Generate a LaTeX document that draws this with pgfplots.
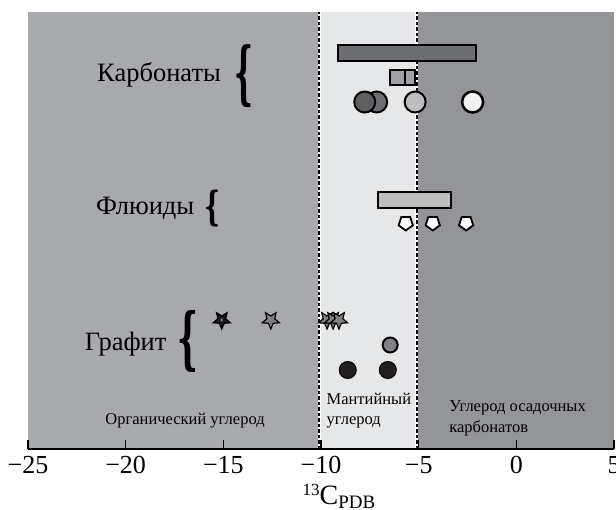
\documentclass[border=0pt]{standalone}
\usepackage{fontspec}
\setmainfont{Liberation Serif}
\newfontfamily\bracefont{DejaVu Serif}
\usepackage{pgfplots}
\pgfplotsset{compat=1.18}
\usetikzlibrary{plotmarks}

\definecolor{gL}{HTML}{A7A9AC}
\definecolor{gM}{HTML}{E6E7E8}
\definecolor{gR}{HTML}{939598}
\definecolor{barDark}{HTML}{6D6E71}
\definecolor{barMid}{HTML}{A0A1A4}
\definecolor{barLight}{HTML}{BCBEC0}
\definecolor{cDarkA}{HTML}{5F6062}
\definecolor{cDarkB}{HTML}{6D6E71}
\definecolor{cLight}{HTML}{BCBEC0}
\definecolor{cWhite}{HTML}{F1F1F2}
\definecolor{cGray}{HTML}{808285}
\definecolor{cBlack}{HTML}{231F20}
\definecolor{starFill}{HTML}{1A1A1A}

\pgfdeclareplotmark{dstar}{%
 \pgfpathmoveto{\pgfpointpolar{-90}{\pgfplotmarksize}}%
 \pgfpathlineto{\pgfpointpolar{-54}{0.45\pgfplotmarksize}}%
 \pgfpathlineto{\pgfpointpolar{-18}{\pgfplotmarksize}}%
 \pgfpathlineto{\pgfpointpolar{18}{0.45\pgfplotmarksize}}%
 \pgfpathlineto{\pgfpointpolar{54}{\pgfplotmarksize}}%
 \pgfpathlineto{\pgfpointpolar{90}{0.45\pgfplotmarksize}}%
 \pgfpathlineto{\pgfpointpolar{126}{\pgfplotmarksize}}%
 \pgfpathlineto{\pgfpointpolar{162}{0.45\pgfplotmarksize}}%
 \pgfpathlineto{\pgfpointpolar{198}{\pgfplotmarksize}}%
 \pgfpathlineto{\pgfpointpolar{234}{0.45\pgfplotmarksize}}%
 \pgfpathclose
 \pgfusepathqfillstroke
 \pgfpathcircle{\pgfpointorigin}{0.15\pgfplotmarksize}%
 \pgfsetfillcolor{gray}%
 \pgfusepathqfill
}

\begin{document}
\begin{tikzpicture}
\begin{axis}[
  scale only axis, width=586pt, height=437pt,
  xmin=-25, xmax=5, ymin=0, ymax=437,
  axis x line=bottom, axis y line=none,
  x axis line style={-, line width=1.2pt},
  xtick={-25,-20,...,5},
  xticklabels={−25,−20,−15,−10,−5,0,5},
  ytick=\empty,
  tick align=inside, major tick length=9pt,
  tick style={black, line width=1.2pt},
  ticklabel style={font=\fontsize{26}{28}\selectfont},
  xticklabel style={yshift=-4pt},
  clip=false, axis on top,
]
% background regions
\addplot[fill=gL, draw=none] coordinates {(-25,0) (-10.1,0) (-10.1,437) (-25,437)} -- cycle;
\addplot[fill=gM, draw=none] coordinates {(-10.1,0) (-5.1,0) (-5.1,437) (-10.1,437)} -- cycle;
\addplot[fill=gR, draw=none] coordinates {(-5.1,0) (5,0) (5,437) (-5.1,437)} -- cycle;
% dashed boundaries
\addplot[white, line width=3pt] coordinates {(-10.1,0) (-10.1,437)};
\addplot[black, line width=2.2pt, dash pattern=on 3.5pt off 2pt] coordinates {(-10.1,0) (-10.1,437)};
\addplot[white, line width=3pt] coordinates {(-5.1,0) (-5.1,437)};
\addplot[black, line width=2.2pt, dash pattern=on 3.5pt off 2pt] coordinates {(-5.1,0) (-5.1,437)};

% Carbonates
\addplot[fill=barDark, draw=black, line width=2pt] coordinates {(-9.13,388) (-2.06,388) (-2.06,404) (-9.13,404)} -- cycle;
\addplot[fill=barMid, draw=black, line width=2pt] coordinates {(-6.46,364) (-5.2,364) (-5.2,379) (-6.46,379)} -- cycle;
\addplot[black, line width=2pt] coordinates {(-5.69,364) (-5.69,379)};
\addplot[only marks, mark=*, mark size=10.5pt, mark options={fill=cDarkB, draw=black, line width=2pt}] coordinates {(-7.15,347)};
\addplot[only marks, mark=*, mark size=10.5pt, mark options={fill=cDarkA, draw=black, line width=2pt}] coordinates {(-7.76,347)};
\addplot[only marks, mark=*, mark size=10.5pt, mark options={fill=cLight, draw=black, line width=2pt}] coordinates {(-5.18,347)};
\addplot[only marks, mark=*, mark size=10.5pt, mark options={fill=cWhite, draw=black, line width=2.5pt}] coordinates {(-2.24,347)};

% Fluids
\addplot[fill=barLight, draw=black, line width=2pt] coordinates {(-7.08,241) (-3.34,241) (-3.34,257) (-7.08,257)} -- cycle;
\addplot[only marks, mark=pentagon*, mark size=7.5pt, mark options={fill=white, draw=black, line width=1.8pt, rotate=180}] coordinates {(-5.66,226) (-4.28,226) (-2.57,226)};

% Graphite
\addplot[only marks, mark=dstar, mark size=9pt, mark options={fill=starFill, draw=black, line width=1.2pt}] coordinates {(-15.08,129) (-12.57,129) (-9.69,129) (-9.38,129) (-9.08,129)};
\addplot[only marks, mark=*, mark size=7.5pt, mark options={fill=cGray, draw=black, line width=2pt}] coordinates {(-6.46,104)};
\addplot[only marks, mark=*, mark size=8.5pt, mark options={fill=cBlack, draw=black, line width=1pt}] coordinates {(-8.63,79) (-6.58,79)};

% group labels
\node[anchor=base, font=\fontsize{26.5}{28}\selectfont] at (axis cs:-18.29,367) {Карбонаты};
\node[anchor=base, font=\fontsize{26.5}{28}\selectfont] at (axis cs:-19.0,235) {Флюиды};
\node[anchor=base, font=\fontsize{26.5}{28}\selectfont] at (axis cs:-20.0,99) {Графит};
\node[inner sep=0pt] at (axis cs:-13.94,372.5) {\resizebox*{19pt}{63pt}{\bracefont\bfseries\{}};
\node[inner sep=0pt] at (axis cs:-15.55,240.5) {\resizebox*{16pt}{37pt}{\bracefont\bfseries\{}};
\node[inner sep=0pt] at (axis cs:-16.8,108) {\resizebox*{21pt}{62pt}{\bracefont\bfseries\{}};

% region labels
\node[anchor=base, font=\fontsize{16.5}{18}\selectfont] at (axis cs:-16.96,25) {Органический углерод};
\node[anchor=base west, inner sep=0pt, font=\fontsize{16.5}{18}\selectfont] at (axis cs:-9.72,45) {Мантийный};
\node[anchor=base west, inner sep=0pt, font=\fontsize{16.5}{18}\selectfont] at (axis cs:-9.72,25) {углерод};
\node[anchor=base west, inner sep=0pt, font=\fontsize{16.5}{18}\selectfont] at (axis cs:-3.44,38) {Углерод осадочных};
\node[anchor=base west, inner sep=0pt, font=\fontsize{16.5}{18}\selectfont] at (axis cs:-3.44,17) {карбонатов};

% x label
\node[anchor=base, inner sep=0pt, font=\fontsize{28}{30}\selectfont] at (axis cs:-9.08,-55) {\raisebox{9pt}{\fontsize{17}{17}\selectfont 13}C\raisebox{-4pt}{\fontsize{19}{19}\selectfont PDB}};
\end{axis}
\pgfresetboundingbox
\path[use as bounding box] ([xshift=-28pt,yshift=-60pt]current axis.south west) rectangle ([xshift=2pt,yshift=12pt]current axis.north east);
\end{tikzpicture}
\end{document}
